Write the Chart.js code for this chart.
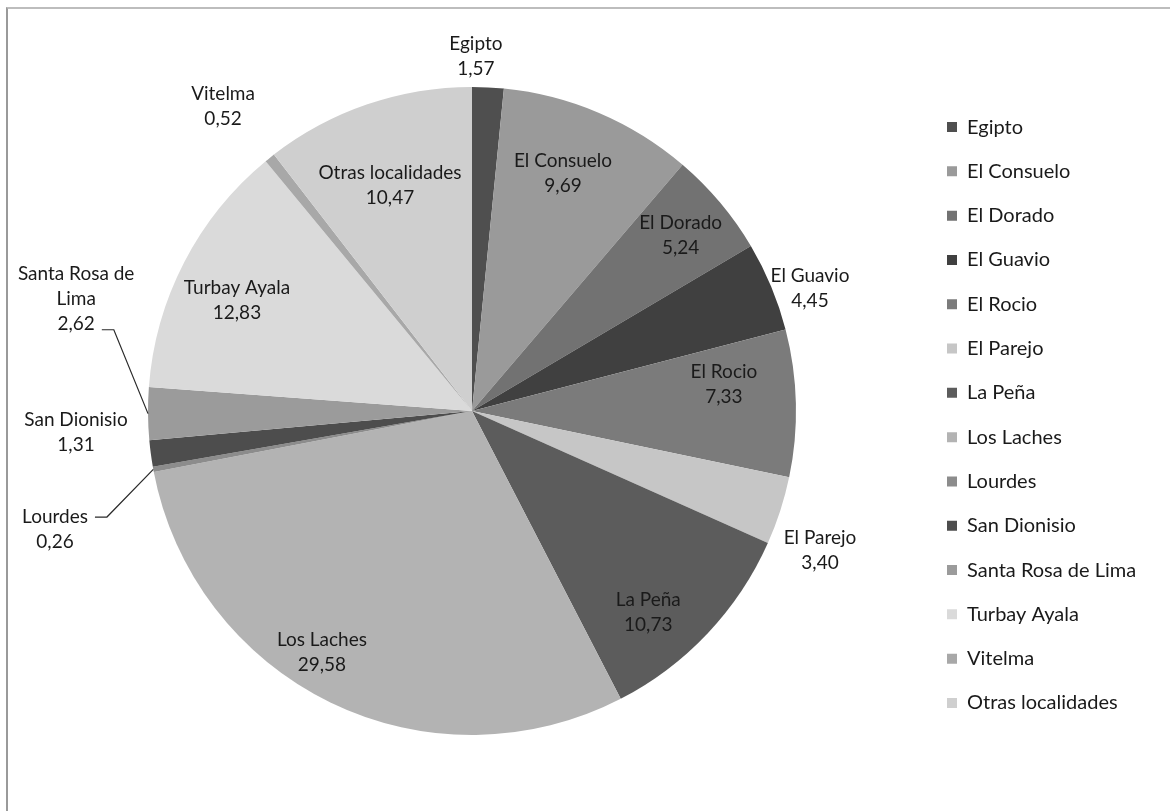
<!DOCTYPE html>
<html>
<head>
<meta charset="utf-8">
<script src="https://cdn.jsdelivr.net/npm/chart.js@4.4.0/dist/chart.umd.min.js"></script>
<style>
  html, body { margin: 0; padding: 0; background: #fff; }
  #wrap { position: relative; width: 1170px; height: 811px; overflow: hidden; }
  #frame { position: absolute; left: 6px; top: 7px; width: 1180px; height: 820px;
           border-top: 2px solid #bdbdbd; border-left: 2px solid #9a9a9a; }
  #pie { position: absolute; left: 0; top: 0; }
</style>
</head>
<body>
<div id="wrap">
  <div id="frame"></div>
  <canvas id="pie" width="1170" height="811"></canvas>
</div>
<script>
// localidades y porcentajes
const categories = ['Egipto', 'El Consuelo', 'El Dorado', 'El Guavio', 'El Rocio', 'El Parejo', 'La Peña',
                    'Los Laches', 'Lourdes', 'San Dionisio', 'Santa Rosa de Lima', 'Turbay Ayala', 'Vitelma', 'Otras localidades'];
const values = [1.57, 9.69, 5.24, 4.45, 7.33, 3.40, 10.73, 29.58, 0.26, 1.31, 2.62, 12.83, 0.52, 10.47];

// estilo de cada porción (escala de grises)
const sliceColors = ['#4f4f4f', '#9a9a9a', '#727272', '#404040', '#7b7b7b', '#c6c6c6', '#5c5c5c',
                     '#b3b3b3', '#8c8c8c', '#4d4d4d', '#9b9b9b', '#dadada', '#a8a8a8', '#cfcfcf'];

// colocación de etiquetas: distancia (x radio), giro en grados, línea guía
const labelDist = [1.096, 0.784, 0.841, 1.11, 0.782, 1.157, 0.827, 0.876, 1.338, 1.224, 1.27, 0.802, 1.215, 0.742];
const labelTurn = [-2.2, -2.1, 0, 2.6, -4.7, 3.9, 5.5, 6.0, -5.5, 4.5, 16.3, -2.1, -0.6, -1.1];
const labelLeader = [null, null, null, null, null, null, null, null, 'top', null, 'bottom', null, null, null];
const labelWrap = { 'Santa Rosa de Lima': ['Santa Rosa de', 'Lima'] };

const FONT = 'Lato';
const LABEL_SIZE = 19;
const LEGEND_SIZE = 20;
const LINE_H = 25;
const TEXT = '#1a1a1a';

// 小数はコンマ
function fmt(v) {
    return v.toFixed(2).replace('.', ',');
}

// etiquetas de datos con líneas guía
const sliceLabels = {
    id: 'sliceLabels',
    afterDatasetsDraw(chart) {
        const ctx = chart.ctx;
        const arcs = chart.getDatasetMeta(0).data;
        ctx.save();
        ctx.font = LABEL_SIZE + 'px ' + FONT;
        ctx.fillStyle = TEXT;
        ctx.textAlign = 'center';
        ctx.textBaseline = 'middle';
        arcs.forEach((arc, i) => {
            const p = arc.getProps(['x', 'y', 'startAngle', 'endAngle', 'outerRadius'], true);
            const mid = (p.startAngle + p.endAngle) / 2;
            const a = mid + labelTurn[i] * Math.PI / 180;
            const r = p.outerRadius * labelDist[i];
            const cx = p.x + Math.cos(a) * r;
            const cy = p.y + Math.sin(a) * r;
            const lines = (labelWrap[categories[i]] || [categories[i]]).concat([fmt(values[i])]);
            const y0 = cy - LINE_H * (lines.length - 1) / 2;
            lines.forEach((t, k) => ctx.fillText(t, cx, y0 + k * LINE_H));

            if (labelLeader[i]) {
                const k = labelLeader[i] === 'top' ? 0 : lines.length - 1;
                const w = ctx.measureText(lines[k]).width;
                const ly = y0 + k * LINE_H + (labelLeader[i] === 'top' ? 0 : 6);
                const lx = cx + w / 2 + 7;
                const ex = p.x + Math.cos(mid) * p.outerRadius;
                const ey = p.y + Math.sin(mid) * p.outerRadius;
                ctx.beginPath();
                ctx.strokeStyle = '#2a2a2a';
                ctx.lineWidth = 1.2;
                ctx.moveTo(lx, ly);
                ctx.lineTo(lx + 12, ly);
                ctx.lineTo(ex, ey);
                ctx.stroke();
            }
        });
        ctx.restore();
    }
};

// レイアウト用の余白を凡例の文字幅から決める
const swatchX = 947;
const pieCx = 472;
const legendPad = 24.3;
const mctx = document.createElement('canvas').getContext('2d');
mctx.font = LEGEND_SIZE + 'px ' + FONT;
const maxTextW = Math.max(...categories.map(c => mctx.measureText(c).width));
const itemW = 10 + LEGEND_SIZE / 2 + maxTextW;
const padRight = 1170 - swatchX - itemW - 10;
const padLeft = 2 * pieCx - (swatchX - legendPad);

new Chart(document.getElementById('pie'), {
    type: 'pie',
    data: {
        labels: categories,
        datasets: [{
            data: values,
            backgroundColor: sliceColors,
            borderWidth: 0,
            radius: 324,
        }],
    },
    options: {
        responsive: false,
        animation: false,
        events: [],
        layout: {
            padding: { top: 11, bottom: 0, left: padLeft, right: padRight },
        },
        plugins: {
            tooltip: { enabled: false },
            legend: {
                position: 'right',
                align: 'center',
                title: { display: true, text: ' ', padding: 0, font: { size: 8, lineHeight: 1 } },
                labels: {
                    boxWidth: 10,
                    boxHeight: 10,
                    padding: legendPad,
                    color: TEXT,
                    font: { family: FONT, size: LEGEND_SIZE },
                },
            },
        },
    },
    plugins: [sliceLabels],
});
</script>
</body>
</html>
